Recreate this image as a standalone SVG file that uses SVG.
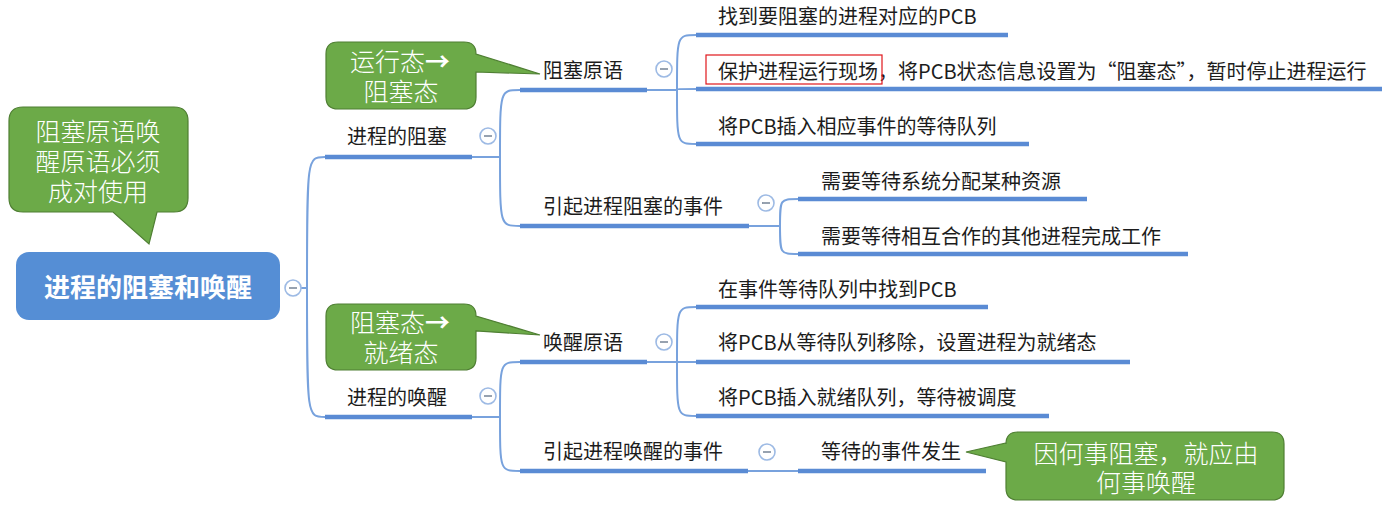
<svg xmlns="http://www.w3.org/2000/svg" width="1382" height="516" viewBox="0 0 1382 516">
<defs>
<style>
.t{font-family:"Noto Sans CJK SC","Noto Sans",sans-serif;font-size:20px;fill:#1c1c1c}
.ul{stroke:#5A8BD4;stroke-width:4.5;fill:none}
.cn{stroke:#78A2DD;stroke-width:2;fill:none}
.cb circle{fill:#fff;stroke:#9DBAE4;stroke-width:1.6}
.cb line{stroke:#8C98A8;stroke-width:1.8}
.co{fill:#6CAA48;stroke:#4F7F33;stroke-width:1.2}
.ct{font-family:"Noto Sans CJK SC","Noto Sans",sans-serif;font-size:25px;font-weight:300;fill:#fff;text-anchor:middle}
.ar{font-weight:700}
</style>
</defs>
<g id="connectors">
<path class="cn" d="M301 288 H307 M307 288 C307 157 307 157 325 157 M307 288 C307 417 307 417 325 417"/>
<path class="cn" d="M472 157 H500 C500 90 500 90 520 90 M500 157 C500 226 500 226 520 226"/>
<path class="cn" d="M472 417 H500 C500 362 500 362 520 362 M500 417 C500 471 500 471 520 471"/>
<path class="cn" d="M647 90 H677 C677 35 677 35 696 35 M677 90 C677 89 677 89 696 89 M677 90 C677 144 677 144 696 144"/>
<path class="cn" d="M749 226 H780 C780 199 780 199 798 199 M780 226 C780 254 780 254 798 254"/>
<path class="cn" d="M647 362 H677 C677 307 677 307 696 307 M677 362 H696 M677 362 C677 416 677 416 696 416"/>
<path class="cn" d="M748 471 H798"/>
</g>
<g id="root">
<rect x="16" y="252" width="264" height="68" rx="13" fill="#558ED5"/>
<text x="148" y="297" font-family="Noto Sans CJK SC, sans-serif" font-size="26" font-weight="bold" fill="#fff" text-anchor="middle">进程的阻塞和唤醒</text>
<g class="cb"><circle cx="293" cy="288" r="8"/><line x1="289" y1="288" x2="297" y2="288"/></g>
</g>
<g id="n-block">
<text class="t" x="347" y="144">进程的阻塞</text>
<line class="ul" x1="325" y1="157" x2="472" y2="157"/>
<g class="cb"><circle cx="488" cy="136" r="8"/><line x1="484" y1="136" x2="492" y2="136"/></g>
</g>
<g id="n-wake">
<text class="t" x="347" y="405">进程的唤醒</text>
<line class="ul" x1="325" y1="417" x2="472" y2="417"/>
<g class="cb"><circle cx="488" cy="396" r="8"/><line x1="484" y1="396" x2="492" y2="396"/></g>
</g>
<g id="n-block-prim">
<text class="t" x="543" y="78">阻塞原语</text>
<line class="ul" x1="520" y1="90" x2="647" y2="90"/>
<g class="cb"><circle cx="664" cy="69" r="8"/><line x1="660" y1="69" x2="668" y2="69"/></g>
</g>
<g id="n-block-event">
<text class="t" x="543" y="214">引起进程阻塞的事件</text>
<line class="ul" x1="520" y1="226" x2="749" y2="226"/>
<g class="cb"><circle cx="766" cy="203" r="8"/><line x1="762" y1="203" x2="770" y2="203"/></g>
</g>
<g id="n-wake-prim">
<text class="t" x="543" y="350">唤醒原语</text>
<line class="ul" x1="520" y1="362" x2="647" y2="362"/>
<g class="cb"><circle cx="664" cy="342" r="8"/><line x1="660" y1="342" x2="668" y2="342"/></g>
</g>
<g id="n-wake-event">
<text class="t" x="543" y="459">引起进程唤醒的事件</text>
<line class="ul" x1="520" y1="471" x2="748" y2="471"/>
<g class="cb"><circle cx="767" cy="452" r="8"/><line x1="763" y1="452" x2="771" y2="452"/></g>
</g>
<g id="n-b1">
<text class="t" x="718" y="24">找到要阻塞的进程对应的PCB</text>
<line class="ul" x1="696" y1="35" x2="1008" y2="35"/>
</g>
<g id="n-b2">
<text class="t" x="718" y="79">保护进程运行现场，将PCB状态信息设置为“阻塞态”，暂时停止进程运行</text>
<line class="ul" x1="696" y1="89" x2="1382" y2="89"/>
<rect x="706" y="55" width="176" height="29" fill="none" stroke="#E0161C" stroke-width="1.2"/>
</g>
<g id="n-b3">
<text class="t" x="718" y="134">将PCB插入相应事件的等待队列</text>
<line class="ul" x1="696" y1="144" x2="1029" y2="144"/>
</g>
<g id="n-e1">
<text class="t" x="821" y="189">需要等待系统分配某种资源</text>
<line class="ul" x1="798" y1="199" x2="1087" y2="199"/>
</g>
<g id="n-e2">
<text class="t" x="821" y="244">需要等待相互合作的其他进程完成工作</text>
<line class="ul" x1="798" y1="254" x2="1188" y2="254"/>
</g>
<g id="n-w1">
<text class="t" x="718" y="297">在事件等待队列中找到PCB</text>
<line class="ul" x1="696" y1="307" x2="988" y2="307"/>
</g>
<g id="n-w2">
<text class="t" x="718" y="350">将PCB从等待队列移除，设置进程为就绪态</text>
<line class="ul" x1="696" y1="362" x2="1130" y2="362"/>
</g>
<g id="n-w3">
<text class="t" x="718" y="405">将PCB插入就绪队列，等待被调度</text>
<line class="ul" x1="696" y1="416" x2="1049" y2="416"/>
</g>
<g id="n-we1">
<text class="t" x="821" y="459">等待的事件发生</text>
<line class="ul" x1="798" y1="471" x2="986" y2="471"/>
</g>
<g id="callout-root">
<path class="co" d="M23 107 H174 Q188 107 188 121 V198 Q188 212 174 212 H157 L149 244 L113 212 H23 Q9 212 9 198 V121 Q9 107 23 107 Z"/>
<text class="ct" x="98" y="141">阻塞原语唤</text>
<text class="ct" x="98" y="171">醒原语必须</text>
<text class="ct" x="98" y="201">成对使用</text>
</g>
<g id="callout-block">
<path class="co" d="M338 42 H464 Q476 42 476 54 L540 74 L476 72 V97 Q476 109 464 109 H338 Q326 109 326 97 V54 Q326 42 338 42 Z"/>
<text class="ct" x="400" y="71">运行态<tspan class="ar">→</tspan></text>
<text class="ct" x="401" y="101">阻塞态</text>
</g>
<g id="callout-wake">
<path class="co" d="M338 304 H464 Q476 304 476 316 L540 335 L476 331 V358 Q476 370 464 370 H338 Q326 370 326 358 V316 Q326 304 338 304 Z"/>
<text class="ct" x="400" y="332">阻塞态<tspan class="ar">→</tspan></text>
<text class="ct" x="401" y="362">就绪态</text>
</g>
<g id="callout-event">
<path class="co" d="M1018 432 H1272 Q1284 432 1284 444 V488 Q1284 500 1272 500 H1018 Q1006 500 1006 488 V462 L966 452 L1006 443 V444 Q1006 432 1018 432 Z"/>
<text class="ct" x="1146" y="463">因何事阻塞，就应由</text>
<text class="ct" x="1146" y="492">何事唤醒</text>
</g>
</svg>
